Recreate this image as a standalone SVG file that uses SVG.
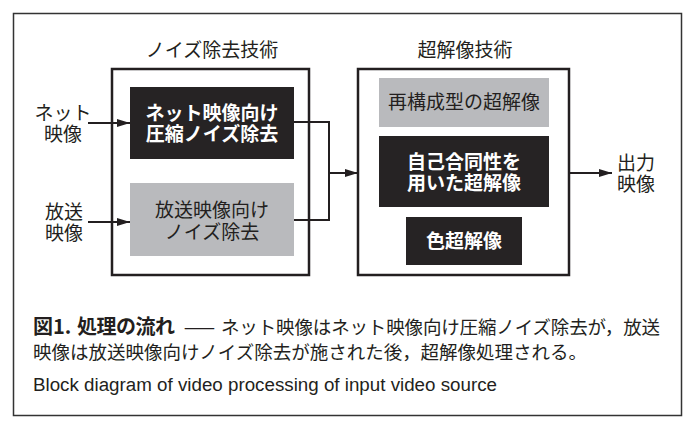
<svg xmlns="http://www.w3.org/2000/svg" width="699" height="427" viewBox="0 0 699 427">
<defs>
<style>
.t{font-family:"Noto Sans CJK JP","Noto Sans",sans-serif;font-size:19px;fill:#231f20;text-anchor:middle}
.w{fill:#ffffff;font-weight:bold}
.grp{fill:none;stroke:#231f20;stroke-width:2.5}
.dark{fill:#262324}
.gray{fill:#b9babd}
.ln{fill:none;stroke:#231f20;stroke-width:2}
.cap{font-family:"Noto Sans CJK JP","Noto Sans",sans-serif;font-size:18.5px;fill:#231f20}
</style>
<marker id="arr" markerUnits="userSpaceOnUse" markerWidth="14" markerHeight="10" refX="13" refY="5" orient="auto">
<path d="M0,1 L13,5 L0,9 Z" fill="#231f20"/>
</marker>
</defs>
<rect x="13.5" y="13.5" width="668" height="402" fill="#ffffff" stroke="#333333" stroke-width="1.5"/>

<g id="title-noise"><text class="t" x="212" y="57">ノイズ除去技術</text></g>
<g id="title-sr"><text class="t" x="465" y="57">超解像技術</text></g>

<g id="group-noise"><rect class="grp" x="112" y="69" width="197" height="206"/></g>
<g id="group-sr"><rect class="grp" x="358" y="69" width="211" height="206"/></g>

<g id="in-net"><text class="t" x="63" y="120">ネット</text><text class="t" x="63" y="141">映像</text></g>
<g id="in-bc"><text class="t" x="64" y="219">放送</text><text class="t" x="64" y="240">映像</text></g>

<g id="nr-net"><rect class="dark" x="130" y="87" width="164" height="72"/><text class="t w" x="212" y="120">ネット映像向け</text><text class="t w" x="212" y="141">圧縮ノイズ除去</text></g>
<g id="nr-bc"><rect class="gray" x="130" y="183" width="164" height="73"/><text class="t" x="212" y="217">放送映像向け</text><text class="t" x="212" y="239">ノイズ除去</text></g>

<g id="sr-recon"><rect class="gray" x="379" y="78" width="170" height="49"/><text class="t" x="464" y="109">再構成型の超解像</text></g>
<g id="sr-self"><rect class="dark" x="379" y="136" width="170" height="71"/><text class="t w" x="464" y="169">自己合同性を</text><text class="t w" x="464" y="190">用いた超解像</text></g>
<g id="sr-color"><rect class="dark" x="406" y="217" width="116" height="48"/><text class="t w" x="464" y="248">色超解像</text></g>

<g id="out"><text class="t" x="636" y="170">出力</text><text class="t" x="636" y="191">映像</text></g>

<g id="connectors">
<path class="ln" d="M88 123 H130" marker-end="url(#arr)"/>
<path class="ln" d="M88 222 H130" marker-end="url(#arr)"/>
<path class="ln" d="M294 122 H329 V220 H294"/>
<path class="ln" d="M329 173 H358" marker-end="url(#arr)"/>
<path class="ln" d="M569 173 H612" marker-end="url(#arr)"/>
</g>

<g id="caption">
<text class="cap" x="33" y="334"><tspan font-weight="bold" font-size="20px">図1.</tspan><tspan x="77" font-weight="bold" font-size="20px" textLength="98" lengthAdjust="spacing">処理の流れ</tspan><tspan x="183" textLength="33" lengthAdjust="spacingAndGlyphs">—</tspan><tspan x="221" textLength="439" lengthAdjust="spacing">ネット映像はネット映像向け圧縮ノイズ除去が，放送</tspan></text>
<text class="cap" x="33" y="359" textLength="554" lengthAdjust="spacing">映像は放送映像向けノイズ除去が施された後，超解像処理される。</text>
<text x="33" y="391" font-family="'Liberation Sans',Arial,sans-serif" font-size="18px" fill="#231f20" textLength="464" lengthAdjust="spacingAndGlyphs">Block diagram of video processing of input video source</text>
</g>
</svg>
